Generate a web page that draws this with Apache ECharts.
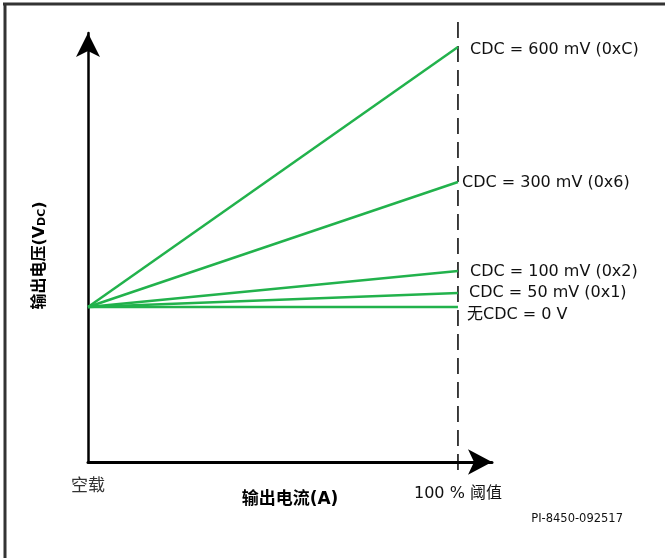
<!DOCTYPE html>
<html>
<head>
<meta charset="utf-8">
<script src="https://cdn.jsdelivr.net/npm/echarts@6/dist/echarts.min.js"></script>
<style>html,body{margin:0;padding:0;background:#fff}#c{width:665px;height:558px}</style>
</head>
<body>
<div id="c"></div>
<script>
// Data (relative output-voltage rise at 100 % threshold in drawing units)
const seriesNames = ['CDC = 600 mV (0xC)', 'CDC = 300 mV (0x6)', 'CDC = 100 mV (0x2)', 'CDC = 50 mV (0x1)', '无CDC = 0 V'];
const startValues = [0, 0, 0, 0, 0];
const endValues = [260, 125, 36, 14, 0];
const loadPoints = [0, 100];       // 空载 -> 100 % 阈值
const thresholdLine = [285, -169]; // dashed marker extent at 100 %
const xTickLabels = {0: '空载', 100: '100 % 阈值'};
const labelOffsets = [[12, 3], [4, 1], [12, 1], [11, 0], [9, 8]];

const FONT = '"DejaVu Sans", "Noto Sans CJK SC", sans-serif';
const chart = echarts.init(document.getElementById('c'));

const lineSeries = seriesNames.map((n, i) => ({
  type: 'line',
  name: n,
  data: [[loadPoints[0], startValues[i]], [loadPoints[1], endValues[i]]],
  symbol: 'none',
  lineStyle: {color: '#22b24c', width: 2.5},
  z: 3,
  silent: true,
  endLabel: {
    show: true,
    formatter: n,
    fontFamily: FONT,
    fontSize: 16,
    color: '#111',
    distance: 0,
    offset: labelOffsets[i],
    align: 'left'
  }
}));

const option = {
  animation: false,
  backgroundColor: '#fff',
  grid: {left: 88, right: 173, top: 33, bottom: 96, containLabel: false},
  xAxis: {
    type: 'value',
    min: 0,
    max: 109.2,
    axisLine: {show: true, onZero: false, lineStyle: {color: '#000', width: 3}, symbol: ['none', 'arrow'], symbolSize: [19, 24]},
    axisTick: {show: false},
    splitLine: {show: false},
    axisLabel: {
      show: true,
      customValues: [0, 100],
      margin: 14,
      formatter: v => v === 0 ? '{a|' + xTickLabels[0] + '}' : '{b|' + xTickLabels[100] + '}',
      rich: {
        a: {fontFamily: '"Noto Sans CJK SC", sans-serif', fontSize: 17, color: '#333', padding: [0, 0, 0, 0]},
        b: {fontFamily: FONT, fontSize: 16, color: '#111', padding: [10, 0, 0, 0]}
      }
    },
    name: '输出电流(A)',
    nameLocation: 'middle',
    nameGap: 29,
    nameMoveOverlap: false,
    nameTextStyle: {fontFamily: FONT, fontWeight: 'bold', fontSize: 17, color: '#000'}
  },
  yAxis: {
    type: 'value',
    min: -155,
    max: 274,
    axisLine: {show: true, onZero: false, lineStyle: {color: '#000', width: 2.5}, symbol: ['none', 'arrow'], symbolSize: [18, 24]},
    axisTick: {show: false},
    axisLabel: {show: false},
    splitLine: {show: false},
    name: '{n|输出电压(V}{s|DC}{n|)}',
    nameLocation: 'middle',
    nameRotate: 90,
    nameGap: 40,
    nameTextStyle: {
      padding: [0, 16, 0, 0],
      rich: {
        n: {fontFamily: FONT, fontWeight: 'bold', fontSize: 16, color: '#000'},
        s: {fontFamily: FONT, fontWeight: 'bold', fontSize: 11, color: '#000', verticalAlign: 'bottom', padding: [6, 0, 0, 0]}
      }
    }
  },
  graphic: [
    {type: 'line', shape: {x1: 5, y1: 3, x2: 5, y2: 558}, style: {stroke: '#333', lineWidth: 3}},
    {type: 'line', shape: {x1: 3, y1: 4, x2: 665, y2: 4}, style: {stroke: '#333', lineWidth: 3}},
    {type: 'text', right: 42, top: 513, style: {text: 'PI-8450-092517', font: '11.5px "DejaVu Sans", sans-serif', fill: '#111'}}
  ],
  series: lineSeries.concat([{
    type: 'line',
    name: 'threshold',
    data: [[loadPoints[1], thresholdLine[0]], [loadPoints[1], thresholdLine[1]]],
    symbol: 'none',
    clip: false,
    silent: true,
    z: 2,
    lineStyle: {color: '#000', width: 1.5, type: [16, 8]}
  }])
};
chart.setOption(option);
</script>
</body>
</html>
